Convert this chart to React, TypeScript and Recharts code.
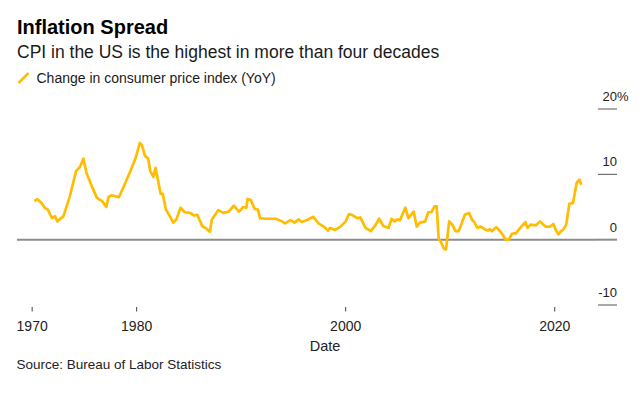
import { LineChart, Line, XAxis, YAxis, ReferenceLine } from 'recharts'

// decimal year of each reading
const years = [
  1970.2, 1970.5, 1970.9, 1971.2, 1971.5, 1971.9, 1972.2, 1972.4, 1973.0, 1973.6,
  1974.2, 1974.6, 1974.9, 1975.2, 1975.7, 1976.2, 1976.7, 1977.1, 1977.3, 1977.6,
  1978.3, 1978.7, 1979.4, 1979.9, 1980.3, 1980.5, 1980.8, 1981.1, 1981.3, 1981.6,
  1981.8, 1982.3, 1982.5, 1982.8, 1983.1, 1983.5, 1983.8, 1984.2, 1984.6, 1985.1,
  1985.5, 1985.8, 1986.3, 1986.6, 1987.0, 1987.2, 1987.8, 1988.3, 1988.8, 1989.3,
  1989.8, 1990.2, 1990.5, 1990.6, 1990.9, 1991.3, 1991.6, 1991.8, 1992.3, 1992.8,
  1993.3, 1993.9, 1994.2, 1994.7, 1995.1, 1995.5, 1995.8, 1996.3, 1996.9, 1997.4,
  1997.9, 1998.3, 1998.5, 1999.0, 1999.5, 2000.0, 2000.3, 2000.6, 2001.1, 2001.4,
  2001.9, 2002.4, 2002.8, 2003.2, 2003.6, 2004.1, 2004.4, 2004.7, 2004.9, 2005.2,
  2005.7, 2006.0, 2006.5, 2006.8, 2007.1, 2007.6, 2007.9, 2008.2, 2008.5, 2008.7,
  2008.9, 2009.1, 2009.4, 2009.6, 2009.9, 2010.2, 2010.5, 2010.8, 2011.1, 2011.4,
  2011.8, 2012.1, 2012.3, 2012.6, 2012.9, 2013.3, 2013.6, 2013.8, 2014.0, 2014.4,
  2014.6, 2015.0, 2015.3, 2015.6, 2015.9, 2016.3, 2016.7, 2017.2, 2017.4, 2017.7,
  2018.2, 2018.6, 2019.1, 2019.55, 2019.87, 2020.1, 2020.35, 2020.6, 2020.8, 2021.1,
  2021.4, 2021.75, 2022.1, 2022.35, 2022.55,
]

// CPI, % change year over year
const cpi = [
  5.9, 6.2, 5.6, 4.9, 4.6, 3.3, 3.6, 2.8, 3.6, 6.6,
  10.5, 11.2, 12.4, 10.2, 8.2, 6.4, 5.9, 5.0, 6.5, 6.8,
  6.5, 7.9, 10.5, 12.5, 14.8, 14.5, 12.8, 12.4, 10.5, 9.6,
  11.0, 7.0, 7.0, 4.6, 3.8, 2.6, 3.1, 4.9, 4.2, 4.1,
  3.7, 3.8, 2.0, 1.8, 1.2, 3.1, 4.5, 4.1, 4.3, 5.2,
  4.3, 5.0, 4.9, 6.2, 6.1, 4.7, 4.6, 3.3, 3.2, 3.2,
  3.2, 2.8, 2.5, 3.0, 2.6, 3.1, 2.7, 3.0, 3.5, 2.5,
  2.0, 1.4, 1.8, 1.5, 2.0, 2.8, 3.9, 3.8, 3.3, 3.4,
  1.8, 1.3, 2.1, 3.2, 2.1, 1.8, 3.2, 2.8, 3.1, 3.0,
  4.9, 3.3, 4.3, 2.0, 2.6, 2.8, 4.2, 4.2, 5.1, 5.1,
  0.1, -0.3, -1.4, -1.5, 2.8, 2.3, 1.3, 1.3, 2.5, 3.8,
  4.1, 3.0, 2.7, 1.8, 2.0, 1.6, 1.4, 1.6, 1.3, 1.9,
  1.6, 0.8, 0.0, 0.0, 0.9, 1.0, 1.8, 2.7, 1.8, 2.3,
  2.2, 2.8, 2.0, 2.0, 2.4, 1.5, 0.8, 1.3, 1.5, 2.3,
  5.5, 5.6, 8.7, 9.2, 8.4,
]

const xTicks = [1970, 1980, 2000, 2020]
const yTicks = [-10, 0, 10, 20]

const data = years.map((year, i) => ({ year, cpi: cpi[i] }))

const FONT = '"Liberation Sans", Arial, Helvetica, sans-serif'
const YELLOW = '#FFBC00'

function YTick({ x, y, payload }: any) {
  const v = payload.value
  return (
    <g>
      <line
        x1={x}
        x2={x + 19}
        y1={y}
        y2={y}
        stroke={v === 0 ? '#8c8c8c' : '#555'}
        strokeWidth={v === 0 ? 2 : 1}
      />
      <text x={x + 19} y={y - 8} textAnchor="end" fontSize={13} fill="#222" fontFamily={FONT}>
        {v}
      </text>
      {v === 20 && (
        <text x={x + 19} y={y - 8} fontSize={13} fill="#222" fontFamily={FONT}>
          %
        </text>
      )}
    </g>
  )
}

function XTick({ x, y, payload }: any) {
  return (
    <g>
      <line x1={x} x2={x} y1={y + 2} y2={y + 6.5} stroke="#444" strokeWidth={1} />
      <text x={x} y={y + 26} textAnchor="middle" fontSize={14} fill="#222" fontFamily={FONT}>
        {payload.value}
      </text>
    </g>
  )
}

export default function App() {
  return (
    <div style={{ position: 'relative', width: 640, height: 397, margin: -8, background: '#fff', fontFamily: FONT }}>
      <svg width={640} height={397} style={{ position: 'absolute', left: 0, top: 0 }}>
        <text x={17} y={34} fontSize={20} fontWeight="bold" fill="#000" fontFamily={FONT}>
          Inflation Spread
        </text>
        <text x={17} y={58} fontSize={17.5} fill="#1a1a1a" fontFamily={FONT}>
          CPI in the US is the highest in more than four decades
        </text>
        <line x1={18.5} y1={83} x2={28.5} y2={73} stroke={YELLOW} strokeWidth={2.5} />
        <text x={36.5} y={83.3} fontSize={14} fill="#1a1a1a" fontFamily={FONT}>
          Change in consumer price index (YoY)
        </text>
        <text x={325} y={351} textAnchor="middle" fontSize={14.5} fill="#222" fontFamily={FONT}>
          Date
        </text>
        <text x={16.5} y={368.5} fontSize={13.5} fill="#222" fontFamily={FONT}>
          Source: Bureau of Labor Statistics
        </text>
      </svg>
      <div style={{ position: 'absolute', left: 0, top: 0 }}>
        <LineChart
          width={640}
          height={397}
          data={data}
          margin={{ top: 109, right: 0, left: 17, bottom: 52 }}
        >
          <XAxis
            dataKey="year"
            type="number"
            domain={[1968.55, 2024.14]}
            ticks={xTicks}
            tick={<XTick />}
            tickSize={0}
            tickMargin={0}
            axisLine={false}
            tickLine={false}
            height={40}
            interval={0}
          />
          <YAxis
            orientation="right"
            type="number"
            domain={[-10, 20]}
            ticks={yTicks}
            tick={<YTick />}
            tickSize={0}
            tickMargin={0}
            axisLine={false}
            tickLine={false}
            width={42}
            interval={0}
          />
          <ReferenceLine y={0} stroke="#8c8c8c" strokeWidth={2} />
          <Line
            type="linear"
            dataKey="cpi"
            stroke={YELLOW}
            strokeWidth={2.7}
            strokeLinejoin="round"
            dot={false}
            isAnimationActive={false}
          />
        </LineChart>
      </div>
    </div>
  )
}
